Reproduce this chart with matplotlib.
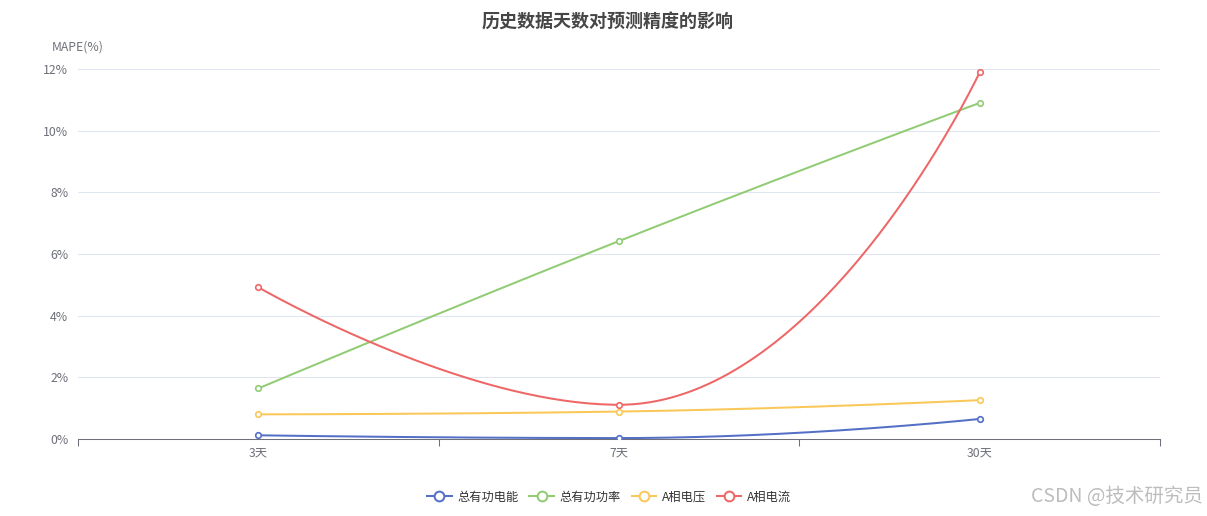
import numpy as np
import matplotlib
matplotlib.use('Agg')
from matplotlib import pyplot as plt
from matplotlib.lines import Line2D

plt.rcParams['font.family'] = ['Noto Sans CJK SC', 'DejaVu Sans']

# data (MAPE in %)
days = ['3天', '7天', '30天']
names = ['总有功电能', '总有功功率', 'A相电压', 'A相电流']
energy = [0.12, 0.03, 0.65]
power = [1.64, 6.42, 10.9]
voltage = [0.80, 0.89, 1.26]
current = [4.92, 1.11, 11.89]
colors = ['#5470c6', '#91cc75', '#fac858', '#ee6666']
y_ticks = [0, 2, 4, 6, 8, 10, 12]

W, H = 1207, 516
fig = plt.figure(figsize=(W / 100, H / 100), dpi=100)
ax = fig.add_axes([78 / W, (H - 439) / H, 1082 / W, 370 / H])
ax.set_xlim(-0.5, len(days) - 0.5)
ax.set_ylim(0, 12)


def echarts_smooth(px, py, smooth=0.5):
    # same control point rule as echarts "smooth: true", done in pixel space
    n = len(px)
    cin = [None] * n
    cout = [None] * n
    cout[0] = (px[0], py[0])
    cin[-1] = (px[-1], py[-1])
    for i in range(1, n - 1):
        x, y = px[i], py[i]
        x0, y0 = px[i - 1], py[i - 1]
        x1, y1 = px[i + 1], py[i + 1]
        vx, vy = x1 - x0, y1 - y0
        l0 = np.hypot(x - x0, y - y0)
        l1 = np.hypot(x1 - x, y1 - y)
        r = l1 / (l0 + l1)
        nx, ny = x + vx * smooth * r, y + vy * smooth * r
        nx = max(min(nx, max(x1, x)), min(x1, x))
        ny = max(min(ny, max(y1, y)), min(y1, y))
        vx, vy = nx - x, ny - y
        cx, cy = x - vx * l0 / l1, y - vy * l0 / l1
        cx = max(min(cx, max(x0, x)), min(x0, x))
        cy = max(min(cy, max(y0, y)), min(y0, y))
        vx, vy = x - cx, y - cy
        cin[i] = (cx, cy)
        cout[i] = (x + vx * l1 / l0, y + vy * l1 / l0)
    t = np.linspace(0, 1, 80)[:, None]
    pts = []
    for i in range(n - 1):
        p0 = np.array([px[i], py[i]])
        p1 = np.array(cout[i])
        p2 = np.array(cin[i + 1])
        p3 = np.array([px[i + 1], py[i + 1]])
        seg = ((1 - t) ** 3) * p0 + 3 * ((1 - t) ** 2) * t * p1 + 3 * (1 - t) * t ** 2 * p2 + t ** 3 * p3
        pts.append(seg)
    return np.vstack(pts)


# grid
for v in y_ticks[1:]:
    ax.axhline(v, color='#E0E6F1', lw=0.75, zorder=0)

xs = np.arange(len(days))
for vals, c in zip([energy, power, voltage, current], colors):
    disp = ax.transData.transform(np.column_stack([xs, vals]))
    curve = echarts_smooth(disp[:, 0], disp[:, 1])
    dc = ax.transData.inverted().transform(curve)
    ax.plot(dc[:, 0], dc[:, 1], color=c, lw=1.45, zorder=2, solid_capstyle='round')
    ax.plot(xs, vals, 'o', ms=4, mfc='white', mec=c, mew=1.2, zorder=3)

# axes styling
for s in ['top', 'right', 'left']:
    ax.spines[s].set_visible(False)
ax.spines['bottom'].set_color('#6E7079')
ax.spines['bottom'].set_linewidth(0.75)
ax.set_yticks(y_ticks)
ax.set_yticklabels([f'{v}%' for v in y_ticks])
ax.tick_params(axis='y', length=0, pad=7, labelsize=8.8, labelcolor='#6E7079')
ax.set_xticks(np.arange(len(days) + 1) - 0.5)
ax.set_xticklabels([])
ax.tick_params(axis='x', which='major', length=5, width=0.75, color='#6E7079')
ax.set_xticks(xs, minor=True)
ax.set_xticklabels(days, minor=True)
ax.tick_params(axis='x', which='minor', length=0, pad=5, labelsize=8.8, labelcolor='#6E7079')

fig.text(78 / W, 1 - 47 / H, 'MAPE(%)', ha='center', va='center', fontsize=8.8, color='#6E7079')
fig.text(608 / W, 1 - 22 / H, '历史数据天数对预测精度的影响', ha='center', va='center',
         fontsize=13, fontweight='bold', color='#464646')

handles = [Line2D([], [], color=c, lw=1.45, marker='o', ms=7, mfc='white', mec=c, mew=1.45)
           for c in colors]
fig.legend(handles, names, loc='center', bbox_to_anchor=(609 / W, 1 - 497 / H), ncol=4,
           frameon=False, fontsize=8.8, handlelength=2.0, handletextpad=0.45,
           columnspacing=0.9, labelcolor='#333333')

fig.text(1203 / W, 1 - 497 / H, 'CSDN @技术研究员', ha='right', va='center',
         fontsize=14, color='#bdbdbd')

fig.savefig('out.png', dpi=100, facecolor='white')
